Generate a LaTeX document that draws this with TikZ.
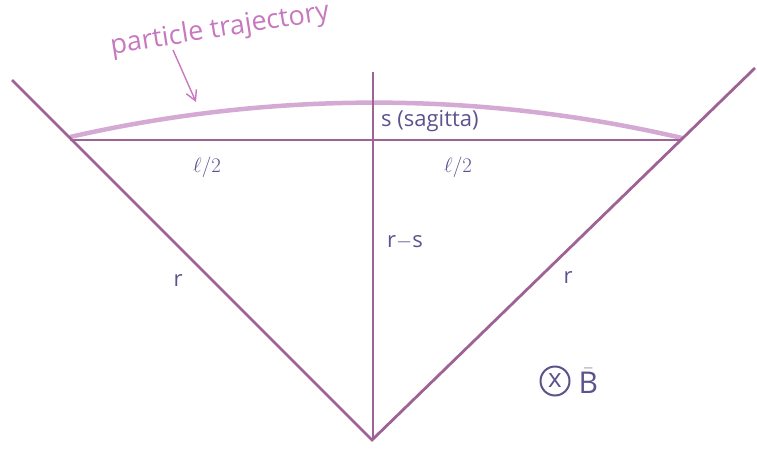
\documentclass[tikz,border=0pt]{standalone}
\usepackage{amsmath,amssymb}
\usepackage{fontspec}
\setmainfont{Open Sans}
\usepackage{tikz}
\usetikzlibrary{arrows.meta,positioning,calc}
\definecolor{rodline}{RGB}{158,98,148}
\definecolor{trackpink}{RGB}{212,170,212}
\definecolor{notepink}{RGB}{200,120,190}
\definecolor{inkblue}{RGB}{92,82,140}

\begin{document}
\begin{tikzpicture}[x=1pt,y=-1pt,
 geo/.style={draw=rodline, line width=2.8pt},
 track/.style={draw=trackpink, line width=4.5pt},
 lbl/.style={font=\fontsize{22}{24}\selectfont, text=inkblue, inner sep=1pt},
 note/.style={font=\fontsize{27}{30}\selectfont, text=notepink, inner sep=1pt},
 arr/.style={-{Straight Barb[length=10pt,width=11pt]}, line width=1.4pt, color=notepink}]
\useasboundingbox (0,0) rectangle (757,452);
% construction points
\coordinate (apex) at (372,440);
\coordinate (lend) at (12,80);
\coordinate (rend) at (755,68);
\coordinate (lchord) at (70,140);
\coordinate (rchord) at (682,140);
\coordinate (top) at (373,72);
\coordinate (foot) at (373,440);
\coordinate (ltrack) at (70,137);
\coordinate (rtrack) at (682,138);
% trajectory and radii
\draw[track] (ltrack) .. controls (272,91) and (480,91) .. (rtrack);
\draw[geo] (lend) -- (apex) -- (rend);
\draw[geo] (lchord) -- (rchord);
\draw[geo] (top) -- (foot);
% labels
\node[note, rotate=9] (trajlbl) at (220,30) {particle trajectory};
\coordinate (arrtail) at (173,50);
\coordinate (arrtip) at (196,102);
\draw[arr] (arrtail) -- (arrtip);
\node[lbl, anchor=west] (sag) at (380,121) {s (sagitta)};
\node[lbl] (lhalf) at (207,167) {$\ell/2$};
\node[lbl] (rhalf) at (458,167) {$\ell/2$};
\node[lbl] (rms) at (405,242) {r$-$s};
\node[lbl] (rleft) at (178,281) {r};
\node[lbl] (rright) at (568,278) {r};
\node[circle, draw=inkblue, line width=2pt, minimum size=29pt, inner sep=0pt,
 text=inkblue, font=\fontsize{26}{28}\selectfont] (otimes) at (555,381) {x};
\node[lbl, font=\fontsize{30}{32}\selectfont, right=7pt of otimes] (bvec) {$\bar{\mathrm{B}}$};
\end{tikzpicture}
\end{document}
